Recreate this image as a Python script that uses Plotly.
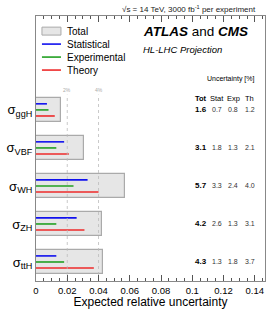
import plotly.graph_objects as go

categories = ["ggH", "VBF", "WH", "ZH", "ttH"]
tot = [1.6, 3.1, 5.7, 4.2, 4.3]
stat = [0.7, 1.8, 3.3, 2.6, 1.3]
expu = [0.8, 1.3, 2.4, 1.3, 1.8]
th = [1.2, 2.1, 4.0, 3.1, 3.7]
grid_vals = [0.02, 0.04]
grid_labels = ["2%", "4%"]
xticks = [0, 0.02, 0.04, 0.06, 0.08, 0.1, 0.12, 0.14]
xticklabels = ["0", "0.02", "0.04", "0.06", "0.08", "0.1", "0.12", "0.14"]

n = len(categories)
ypos = [n - 1 - i for i in range(n)]
FONT = "Liberation Sans, Arial, sans-serif"
BLUE, GREEN, RED = "#1010ee", "#22a022", "#ee2a2a"

fig = go.Figure()

# total boxes
fig.add_trace(go.Bar(
    x=[v / 100 for v in tot], y=ypos, orientation="h", width=0.63,
    marker=dict(color="#e6e6e6", line=dict(color="#aaaaaa", width=1.2)),
    name="Total", showlegend=False,
))

def seg(vals, off):
    xs, ys = [], []
    for v, p in zip(vals, ypos):
        xs += [0, v / 100, None]
        ys += [p + off, p + off, None]
    return xs, ys

for vals, off, col, nm in [(stat, 0.16, BLUE, "Statistical"),
                           (expu, 0.0, GREEN, "Experimental"),
                           (th, -0.16, RED, "Theory")]:
    xs, ys = seg(vals, off)
    fig.add_trace(go.Scatter(x=xs, y=ys, mode="lines", name=nm, showlegend=False,
                             line=dict(color=col, width=1.6)))

# dashed reference lines
for g, lab in zip(grid_vals, grid_labels):
    fig.add_trace(go.Scatter(x=[g, g], y=[-0.5, 4.4], mode="lines",
                             line=dict(color="#bbbbbb", width=0.8, dash="dot"),
                             showlegend=False, hoverinfo="skip"))
    fig.add_annotation(x=g, y=4.53, xref="x", yref="y", text=lab,
                       showarrow=False, font=dict(size=5, color="#aaaaaa", family=FONT))

# custom legend
leg_items = [("Total", None), ("Statistical", BLUE), ("Experimental", GREEN), ("Theory", RED)]
leg_y = [0.943, 0.894, 0.845, 0.796]
for (nm, col), ly in zip(leg_items, leg_y):
    if col is None:
        fig.add_shape(type="rect", xref="paper", yref="paper", x0=0.026, x1=0.109,
                      y0=ly - 0.015, y1=ly + 0.015,
                      fillcolor="#e6e6e6", line=dict(color="#aaaaaa", width=1))
    else:
        fig.add_shape(type="line", xref="paper", yref="paper", x0=0.026, x1=0.109,
                      y0=ly, y1=ly, line=dict(color=col, width=1.6))
    fig.add_annotation(x=0.128, y=ly, xref="paper", yref="paper", xanchor="left", yanchor="middle",
                       text=nm, showarrow=False, font=dict(size=10, color="black", family=FONT))

# text annotations
fig.add_annotation(x=0.97, y=1.0, xref="paper", yref="paper", xanchor="right", yanchor="bottom",
                   text="√s = 14 TeV, 3000 fb<sup>-1</sup> per experiment", showarrow=False,
                   font=dict(size=8, color="#222", family=FONT))
fig.add_annotation(x=0.46, y=0.943, xref="paper", yref="paper", xanchor="left", yanchor="middle",
                   text="<b><i>ATLAS</i></b> and <b><i>CMS</i></b>", showarrow=False,
                   font=dict(size=13.5, color="black", family=FONT))
fig.add_annotation(x=0.46, y=0.872, xref="paper", yref="paper", xanchor="left", yanchor="middle",
                   text="<i>HL-LHC Projection</i>", showarrow=False,
                   font=dict(size=9.5, color="black", family=FONT))
fig.add_annotation(x=0.965, y=0.762, xref="paper", yref="paper", xanchor="right", yanchor="middle",
                   text="Uncertainty [%]", showarrow=False,
                   font=dict(size=7, color="black", family=FONT))

col_x = [0.72, 0.79, 0.862, 0.934]
headers = ["<b>Tot</b>", "Stat", "Exp", "Th"]
for cx, h in zip(col_x, headers):
    fig.add_annotation(x=cx, y=0.69, xref="paper", yref="paper", xanchor="center", yanchor="middle",
                       text=h, showarrow=False, font=dict(size=7.5, color="black", family=FONT))
for p, a, b, c, d in zip(ypos, tot, stat, expu, th):
    for cx, v, bold in zip(col_x, [a, b, c, d], [True, False, False, False]):
        txt = f"<b>{v:.1f}</b>" if bold else f"{v:.1f}"
        fig.add_annotation(x=cx, y=p, xref="paper", yref="y", xanchor="center", yanchor="middle",
                           text=txt, showarrow=False,
                           font=dict(size=8 if bold else 7, color="black" if bold else "#333", family=FONT))

fig.update_layout(
    width=276, height=311,
    margin=dict(l=36, r=11, t=16, b=30),
    plot_bgcolor="white", paper_bgcolor="white",
    font=dict(family=FONT, color="black"),
    showlegend=False,
    bargap=0,
)
fig.update_xaxes(range=[0, 0.1465], tickvals=xticks, ticktext=xticklabels,
                 ticks="inside", ticklen=6, tickcolor="#555",
                 minor=dict(ticks="inside", ticklen=3, dtick=0.005, tickcolor="#555"),
                 showline=True, linecolor="#888", linewidth=1.2, mirror="ticks",
                 showgrid=False, zeroline=False, automargin=False,
                 tickfont=dict(size=9.5),
                 title=dict(text="Expected relative uncertainty", font=dict(size=12), standoff=2))
fig.update_yaxes(range=[-0.5, 6.47], tickvals=ypos,
                 ticktext=[f"σ<sub>{c}</sub>" for c in categories],
                 ticks="", showline=True, linecolor="#888", linewidth=1.2, mirror=True,
                 showgrid=False, zeroline=False, automargin=False, tickfont=dict(size=13))

fig.write_html("out.html", config={"displayModeBar": False},
               post_script="document.body.style.margin='0';document.body.style.overflow='hidden';")
